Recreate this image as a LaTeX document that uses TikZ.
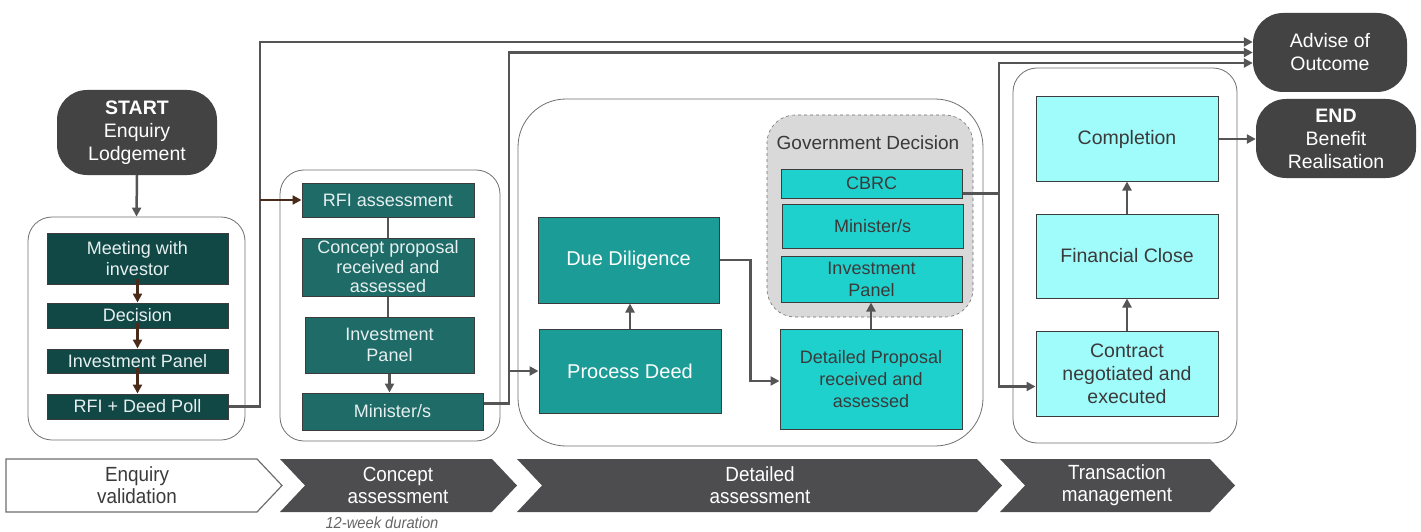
\documentclass[tikz,border=0pt]{standalone}
\usepackage{fontspec}
\setmainfont{Liberation Sans}
\newfontfamily\narrowsans{Liberation Sans}[FakeStretch=0.92]
\usetikzlibrary{arrows.meta}

\definecolor{termfill}{HTML}{434343}
\definecolor{chevfill}{HTML}{4D4D4F}
\definecolor{enqfill}{HTML}{114845}
\definecolor{concfill}{HTML}{1F6B67}
\definecolor{detfill}{HTML}{1B9C96}
\definecolor{govfill}{HTML}{1FD1CD}
\definecolor{transfill}{HTML}{A0FBFB}
\definecolor{boxline}{HTML}{3C3C3C}
\definecolor{frameline}{HTML}{6E6E6E}
\definecolor{arrline}{HTML}{555555}
\definecolor{brownline}{HTML}{4A2A18}
\definecolor{lighttext}{HTML}{E6F0F0}
\definecolor{darktext}{HTML}{3A3A3A}

\begin{document}
\begin{tikzpicture}[x=1pt, y=-1pt,
    box/.style={draw=boxline, line width=1pt, inner sep=2pt, align=center},
    frame/.style={draw=frameline, line width=0.8pt, rounded corners=24pt},
    terminal/.style={fill=termfill, text=white, rounded corners=30pt, align=center,
      font=\fontsize{19.5}{23}\selectfont},
    phase/.style={align=center, font=\narrowsans\fontsize{20.5}{22}\selectfont},
    conn/.style={draw=arrline, line width=2.5pt},
    arr/.style={conn, -{Triangle[length=9pt,width=9pt]}},
    brownarr/.style={draw=brownline, line width=2.5pt, -{Triangle[length=9pt,width=9pt]}}]

  \useasboundingbox (0,0) rectangle (1421,532);

  % Stage frames
  \node[frame, minimum width=217pt, minimum height=223pt] (frameA) at (136.5,328.5) {};
  \node[frame, minimum width=220pt, minimum height=271pt] (frameB) at (390,305.5) {};
  \node[frame, rounded corners=48pt, minimum width=465pt, minimum height=347pt] (frameC) at (750.5,272.5) {};
  \node[frame, minimum width=224pt, minimum height=375pt] (frameD) at (1125,255.5) {};

  % Start and end points
  \node[terminal, minimum width=160pt, minimum height=85pt] (start) at (137,132.5)
    {\textbf{START}\\Enquiry\\Lodgement};
  \node[terminal, minimum width=154pt, minimum height=79pt] (advise) at (1330,52.5)
    {Advise of\\Outcome};
  \node[terminal, minimum width=160pt, minimum height=79pt] (endn) at (1336,138.5)
    {\textbf{END}\\Benefit\\Realisation};

  % Enquiry validation
  \begin{scope}[every node/.style={box, fill=enqfill, text=lighttext, minimum width=181pt,
      font=\fontsize{18}{21}\selectfont}]
    \node[minimum height=51pt] (meet) at (137.5,258.5) {Meeting with\\investor};
    \node[minimum height=25pt] (dec) at (137.5,315.5) {Decision};
    \node[minimum height=24pt] (ipanA) at (137.5,361) {Investment Panel};
    \node[minimum height=25pt] (rfidp) at (137.5,406.5) {RFI + Deed Poll};
  \end{scope}

  % Concept assessment
  \begin{scope}[every node/.style={box, fill=concfill, text=lighttext,
      font=\fontsize{18}{21}\selectfont}]
    \node[minimum width=172pt, minimum height=34pt] (rfia) at (388,200) {RFI assessment};
    \node[minimum width=172pt, minimum height=58pt, font=\fontsize{18}{19.5}\selectfont] (cprop)
      at (388,267) {Concept proposal\\received and\\assessed};
    \node[minimum width=169pt, minimum height=56pt] (ipanB) at (389.5,345) {Investment\\Panel};
    \node[minimum width=181pt, minimum height=37pt] (minB) at (392.5,411.5) {Minister/s};
  \end{scope}

  % Detailed assessment
  \node[draw=frameline, dashed, line width=0.6pt, fill=black!15, rounded corners=28pt,
    minimum width=206pt, minimum height=202pt] (govbox) at (870,216) {};
  \node[text=darktext, font=\fontsize{19}{22}\selectfont] (govlabel) at (868,143)
    {Government Decision};
  \node[box, fill=detfill, text=white, minimum width=181pt, minimum height=86pt,
    font=\fontsize{20}{23}\selectfont] (dd) at (628.5,260) {Due Diligence};
  \node[box, fill=detfill, text=white, minimum width=182pt, minimum height=84pt,
    font=\fontsize{20}{23}\selectfont] (pdeed) at (630,371) {Process Deed};
  \begin{scope}[every node/.style={box, fill=govfill, text=darktext, minimum width=181pt,
      font=\fontsize{18}{22}\selectfont}]
    \node[minimum width=182pt, minimum height=100pt] (dprop) at (871,379)
      {Detailed Proposal\\received and\\assessed};
    \node[minimum height=29pt] (cbrc) at (871.5,183.5) {CBRC};
    \node[minimum height=44pt] (minC) at (872.5,226) {Minister/s};
    \node[minimum height=46pt] (ipanC) at (871.5,279) {Investment\\Panel};
  \end{scope}

  % Transaction management
  \begin{scope}[every node/.style={box, fill=transfill, text=darktext, minimum width=182pt,
      font=\fontsize{19.5}{23}\selectfont}]
    \node[minimum height=84pt] (compl) at (1127,139) {Completion};
    \node[minimum height=84pt] (fclose) at (1127,256) {Financial Close};
    \node[minimum height=85pt] (contract) at (1127,373.5) {Contract\\negotiated and\\executed};
  \end{scope}

  % Connectors
  \draw[arr] (start.south) -- (frameA.north);
  \foreach \a/\b in {meet/dec, dec/ipanA, ipanA/rfidp}
    \draw[brownarr] ([yshift=6pt]\a.south) -- (\b.north);

  \coordinate (jA) at (260,200);
  \draw[arr] (rfidp.east) -| (jA) |- ([yshift=10.5pt]advise.west);
  \draw[brownarr] (jA) -- (rfia.west);

  \draw[conn] (rfia.south) -- (rfia.south |- cprop.north);
  \draw[conn] (cprop.south) -- (cprop.south |- ipanB.north);
  \draw[arr] (ipanB.south) -- (ipanB.south |- minB.north);

  \coordinate (jB) at (509,371);
  \draw[arr] ([yshift=8pt]minB.east) -| (jB) |- (advise.west);
  \draw[arr] (jB) -- (pdeed.west);

  \draw[arr] (pdeed.north) -- (pdeed.north |- dd.south);
  \draw[arr] (dd.east) -- ++(31,0) |- ([yshift=-2pt]dprop.west);
  \draw[arr] (dprop.north) -- (dprop.north |- ipanC.south);

  \coordinate (jC) at (999,193.5);
  \draw[arr] ([yshift=-10pt]cbrc.east) -- (jC) |- ([yshift=-10.5pt]advise.west);
  \draw[arr] (jC) |- ([yshift=-13pt]contract.west);

  \draw[arr] (contract.north) -- (fclose.south);
  \draw[arr] (fclose.north) -- (compl.south);
  \draw[arr] (compl.east) -- (compl.east -| endn.west);

  % Phase chevrons
  \draw[draw=frameline, line width=1.2pt, fill=white]
    (6,459) -- (257,459) -- (282,485.5) -- (257,512) -- (6,512) -- cycle;
  \node[phase, text=darktext] (enquiry) at (137,485.5) {Enquiry\\validation};
  \foreach \xa/\xb/\nm/\xt/\txt in {280/492/concept/398/{Concept\\assessment},
      517/977/detail/760/{Detailed\\assessment},
      1000/1210/trans/1117/{Transaction\\management}} {
    \fill[chevfill] (\xa,459) -- (\xb,459) -- (\xb+25,485.5) -- (\xb,512)
      -- (\xa,512) -- (\xa+25,485.5) -- cycle;
    \node[phase, text=white] (\nm) at (\xt,485.5) {\txt};
  }
  \node[text=black!60, font=\narrowsans\itshape\fontsize{16}{18}\selectfont] (dur)
    at (382,523) {12-week duration};

\end{tikzpicture}
\end{document}
